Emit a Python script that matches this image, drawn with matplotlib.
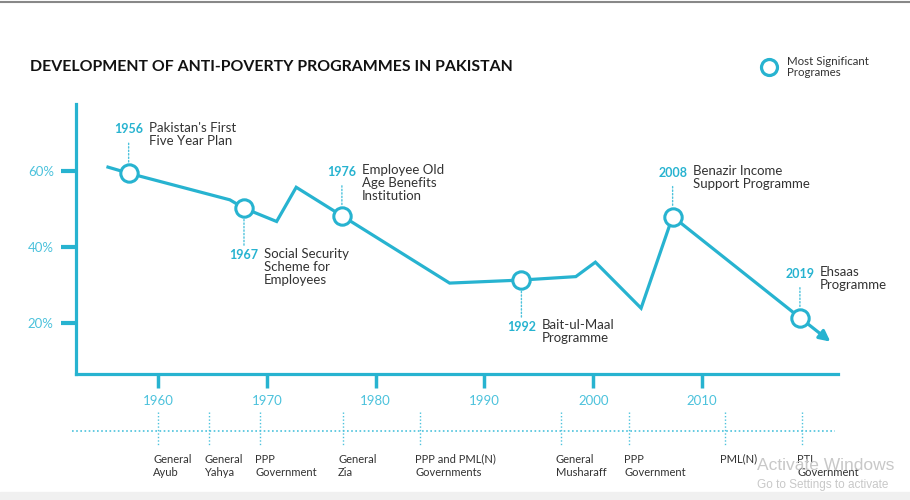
import matplotlib.pyplot as plt
from matplotlib.lines import Line2D

# poverty line (x = position on the year axis, y = %)
line_x = [1955.4, 1957.3, 1966.6, 1967.9, 1970.9, 1972.7, 1976.9, 1986.8,
          1993.4, 1998.4, 2000.2, 2004.4, 2007.3, 2019.0]
line_y = [60.9, 59.3, 52.3, 50.1, 46.6, 55.6, 48.1, 30.4,
          31.2, 32.1, 35.9, 23.8, 47.9, 21.3]
arrow_end = (2021.8, 15.0)

# most significant programmes
prog_x = [1957.3, 1967.9, 1976.9, 1993.4, 2007.3, 2019.0]
prog_y = [59.3, 50.1, 48.1, 31.2, 47.9, 21.3]
prog_year = ["1956", "1967", "1976", "1992", "2008", "2019"]
prog_text = ["Pakistan's First\nFive Year Plan",
             "Social Security\nScheme for\nEmployees",
             "Employee Old\nAge Benefits\nInstitution",
             "Bait-ul-Maal\nProgramme",
             "Benazir Income\nSupport Programme",
             "Ehsaas\nProgramme"]
prog_side = ["above", "below", "above", "below", "above", "above"]

# governments along the bottom timeline
gov_x = [1960.0, 1964.7, 1969.4, 1977.0, 1984.1, 1997.0, 2003.3, 2012.1, 2019.2]
gov_labels = ["General\nAyub", "General\nYahya", "PPP\nGovernment",
              "General\nZia", "PPP and PML(N)\nGovernments",
              "General\nMusharaff", "PPP\nGovernment", "PML(N)",
              "PTI\nGovernment"]

year_ticks = [1960, 1970, 1980, 1990, 2000, 2010]
pct_ticks = [20, 40, 60]

CYAN = "#27b3d0"
LIGHT = "#4cc2dc"
DARK = "#333333"
FONT = "Lato"

fig = plt.figure(figsize=(9.1, 5.0), dpi=100)
ax = fig.add_axes([76 / 910, 1 - 374 / 500, 762 / 910, 270 / 500])
ax.set_xlim(1952.46, 2022.5)
ax.set_ylim(6.49, 77.5)

for s in ["top", "right"]:
    ax.spines[s].set_visible(False)
for s in ["left", "bottom"]:
    ax.spines[s].set_color(CYAN)
    ax.spines[s].set_linewidth(2.3)

ax.set_xticks(year_ticks)
ax.set_xticklabels([str(y) for y in year_ticks])
ax.set_yticks(pct_ticks)
ax.set_yticklabels([f"{p}%" for p in pct_ticks])
ax.tick_params(axis="x", direction="out", length=10, width=2.5, color=CYAN,
               labelcolor=LIGHT, labelsize=9.5, pad=5)
ax.tick_params(axis="y", direction="out", length=11, width=3, color=CYAN,
               labelcolor=LIGHT, labelsize=9.5, pad=5)
for lab in ax.get_xticklabels() + ax.get_yticklabels():
    lab.set_fontfamily(FONT)

ax.plot(line_x, line_y, color=CYAN, lw=2.3, solid_joinstyle="miter",
        zorder=3)
ax.annotate("", xy=arrow_end, xytext=(line_x[-1], line_y[-1]),
            arrowprops=dict(arrowstyle="-|>", color=CYAN, lw=2.3,
                            mutation_scale=16, shrinkA=0, shrinkB=0),
            zorder=3)
ax.plot(prog_x, prog_y, "o", ms=12.5, mfc="white", mec=CYAN, mew=2.2,
        zorder=4, clip_on=False)

# annotations for the programmes (offsets in pixels, converted to points)
PX = 0.72
for x, y, yr, txt, side in zip(prog_x, prog_y, prog_year, prog_text,
                               prog_side):
    if side == "above":
        dy, lead_end, sign = 44, 30, 1
    else:
        dy, lead_end, sign = -47, 37, -1
    ax.annotate("", xy=(x, y), xytext=(0, sign * lead_end * PX),
                textcoords="offset points",
                arrowprops=dict(arrowstyle="-", color=LIGHT, lw=1,
                                ls=(0, (1, 1.5)), shrinkA=0,
                                shrinkB=10 * PX))
    ax.annotate(yr, xy=(x, y), xytext=(0, dy * PX),
                textcoords="offset points", ha="center", va="center",
                color=CYAN, fontsize=9, fontweight="bold", family=FONT)
    ax.annotate(txt, xy=(x, y), xytext=(20 * PX, dy * PX + 5.5),
                textcoords="offset points", ha="left", va="top",
                color=DARK, fontsize=9.5, family=FONT, linespacing=1.1)

# bottom timeline of governments
tr = ax.get_xaxis_transform()
ax.plot([1952.1, 2022.2], [-0.211, -0.211], transform=tr, color=LIGHT,
        lw=1.2, ls=(0, (1, 1.5)), clip_on=False)
for gx, glab in zip(gov_x, gov_labels):
    ax.plot([gx, gx], [-0.141, -0.263], transform=tr, color=LIGHT, lw=1,
            ls=(0, (1, 1.5)), clip_on=False)
    ax.annotate(glab, xy=(gx, -0.295), xycoords=tr, xytext=(-3.5, 0),
                textcoords="offset points", ha="left", va="top",
                color=DARK, fontsize=8, family=FONT, linespacing=1.25,
                annotation_clip=False)

# title and legend
fig.text(30 / 910, 1 - 67 / 500, "DEVELOPMENT OF ANTI-POVERTY PROGRAMMES IN PAKISTAN",
         ha="left", va="center", fontsize=11.4, fontweight="bold",
         color="#111111", family=FONT)
handle = Line2D([], [], ls="none", marker="o", ms=11.5, mfc="white",
                mec=CYAN, mew=2.3)
leg = fig.legend([handle], ["Most Significant\nProgrames"], loc="center left",
                 bbox_to_anchor=(752 / 910, 1 - 67 / 500), frameon=False,
                 handlelength=1.2, handletextpad=0.9,
                 prop={"family": FONT, "size": 8.3})
for t in leg.get_texts():
    t.set_color(DARK)
    t.set_linespacing(1.1)

# screenshot chrome
fig.add_artist(Line2D([0, 1], [0.997, 0.997], transform=fig.transFigure,
                      color="#888888", lw=1.5))
fig.add_artist(plt.Rectangle((0, 0), 1, 8 / 500, transform=fig.transFigure,
                             color="#f0f0f0", zorder=0))
fig.text(757 / 910, 1 - 466 / 500, "Activate Windows", fontsize=12.5,
         color="#c8c8c8", ha="left", va="center", family="Liberation Sans")
fig.text(757 / 910, 1 - 485 / 500, "Go to Settings to activate",
         fontsize=8.5, color="#c8c8c8", ha="left", va="center",
         family="Liberation Sans")

fig.savefig("out.png", dpi=100)
